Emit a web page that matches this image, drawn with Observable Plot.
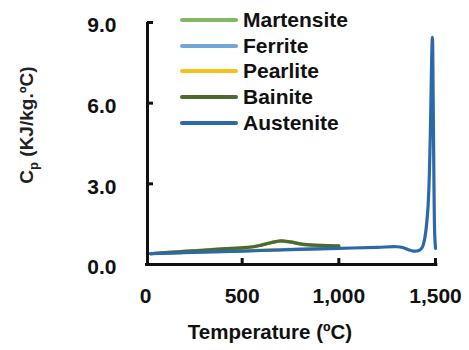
<!DOCTYPE html>
<html>
<head>
<meta charset="utf-8">
<script src="https://cdn.jsdelivr.net/npm/d3@7"></script>
<script src="https://cdn.jsdelivr.net/npm/@observablehq/plot@0.6"></script>
<style>
  html, body { margin: 0; padding: 0; background: #fff; }
  #wrap { position: relative; width: 469px; height: 350px; }
  #legend { position: absolute; left: 180px; top: 7px; font-family: "Liberation Sans", Arial, sans-serif; font-weight: bold; font-size: 21px; color: #111; }
  .item { display: flex; align-items: center; height: 25.7px; }
  .sw { width: 58px; height: 4px; border-radius: 2px; margin-right: 5px; }
</style>
</head>
<body>
<div id="wrap"><div id="legend"></div></div>
<script>
const seriesNames = ["Martensite", "Ferrite", "Pearlite", "Bainite", "Austenite"];
const seriesColors = ["#86b764", "#72a6d8", "#f2c318", "#4d6b2c", "#2d69a9"];

// Martensite / Bainite (25–1000 °C)
const greenT = [25, 100, 200, 300, 400, 500, 560, 600, 650, 700, 750, 800, 850, 900, 950, 1000];
const martensiteCp = [0.40, 0.44, 0.49, 0.54, 0.58, 0.63, 0.67, 0.73, 0.82, 0.87, 0.83, 0.76, 0.72, 0.71, 0.70, 0.69];
const bainiteCp    = [0.40, 0.44, 0.49, 0.53, 0.58, 0.62, 0.66, 0.72, 0.81, 0.88, 0.84, 0.77, 0.73, 0.71, 0.70, 0.69];

// Ferrite / Pearlite
const ferriteT = [25, 200, 400, 600, 800, 1000];
const ferriteCp = [0.41, 0.45, 0.49, 0.53, 0.57, 0.61];
const pearliteT = [25, 200, 400, 600, 700];
const pearliteCp = [0.41, 0.45, 0.49, 0.53, 0.55];

// Austenite (25–1500 °C)
const austT = [25, 200, 400, 600, 800, 1000, 1200, 1300, 1330, 1360, 1385, 1410, 1430, 1445, 1460, 1468, 1475, 1480, 1484, 1488, 1492, 1496, 1500];
const austCp = [0.40, 0.44, 0.48, 0.52, 0.56, 0.60, 0.64, 0.66, 0.63, 0.55, 0.50, 0.51, 0.62, 1.0, 2.0, 3.3, 5.5, 7.6, 8.45, 6.2, 3.0, 1.1, 0.6];

const xTicks = [0, 500, 1000, 1500];
const yTicks = [0, 3, 6, 9];

const mk = (name, T, v) => T.map((t, i) => ({series: name, t, cp: v[i]}));
const data = [
  ...mk("Martensite", greenT, martensiteCp),
  ...mk("Ferrite", ferriteT, ferriteCp),
  ...mk("Pearlite", pearliteT, pearliteCp),
  ...mk("Bainite", greenT, bainiteCp),
  ...mk("Austenite", austT, austCp)
];

const font = '"Liberation Sans", Arial, sans-serif';
const chart = Plot.plot({
  width: 469,
  height: 350,
  marginLeft: 145,
  marginRight: 34,
  marginTop: 22,
  marginBottom: 86,
  style: {fontFamily: font, fontSize: "21px", fontWeight: "bold", color: "#111", background: "#fff"},
  x: {domain: [0, 1500]},
  y: {domain: [0, 9]},
  color: {domain: seriesNames, range: seriesColors},
  marks: [
    ...seriesNames.map(name =>
      Plot.line(data.filter(d => d.series === name), {x: "t", y: "cp", stroke: "series", strokeWidth: 3.2, curve: "catmull-rom"})
    ),
    Plot.ruleX([0], {y1: 0, y2: 9, dx: 2, stroke: "#111", strokeWidth: 3}),
    Plot.ruleY([0], {x1: 0, x2: 1512, stroke: "#111", strokeWidth: 3}),
    Plot.axisY({ticks: yTicks, tickSize: -6, text: null, strokeWidth: 3, dx: 2, label: null}),
    Plot.axisY({ticks: yTicks, tickSize: 0, tickPadding: 29, dy: 3, tickFormat: d3.format(".1f"), label: null, fill: "#111"}),
    Plot.axisX({ticks: xTicks.slice(1), tickSize: -6, text: null, strokeWidth: 3, label: null}),
    Plot.axisX({ticks: xTicks, tickSize: 0, tickPadding: 24, label: null, fill: "#111"})
  ]
});

const svg = d3.select(chart);
const yt = svg.append("text")
  .attr("transform", "translate(33,125) rotate(-90)")
  .attr("text-anchor", "middle")
  .attr("font-family", font)
  .attr("font-weight", "bold")
  .attr("font-size", 19)
  .attr("fill", "#222");
yt.append("tspan").text("C");
yt.append("tspan").attr("font-size", 13).attr("dy", 5).text("p");
yt.append("tspan").attr("dy", -5).text(" (KJ/kg.ºC)");

svg.append("text")
  .attr("x", 270).attr("y", 339)
  .attr("text-anchor", "middle")
  .attr("font-family", font)
  .attr("font-weight", "bold")
  .attr("font-size", 20.5)
  .attr("fill", "#111")
  .text("Temperature (ºC)");

const wrap = document.getElementById("wrap");
wrap.insertBefore(chart, wrap.firstChild);
const legend = d3.select("#legend");
seriesNames.forEach((name, i) => {
  const row = legend.append("div").attr("class", "item");
  row.append("div").attr("class", "sw").style("background", seriesColors[i]);
  row.append("span").text(name);
});
</script>
</body>
</html>
